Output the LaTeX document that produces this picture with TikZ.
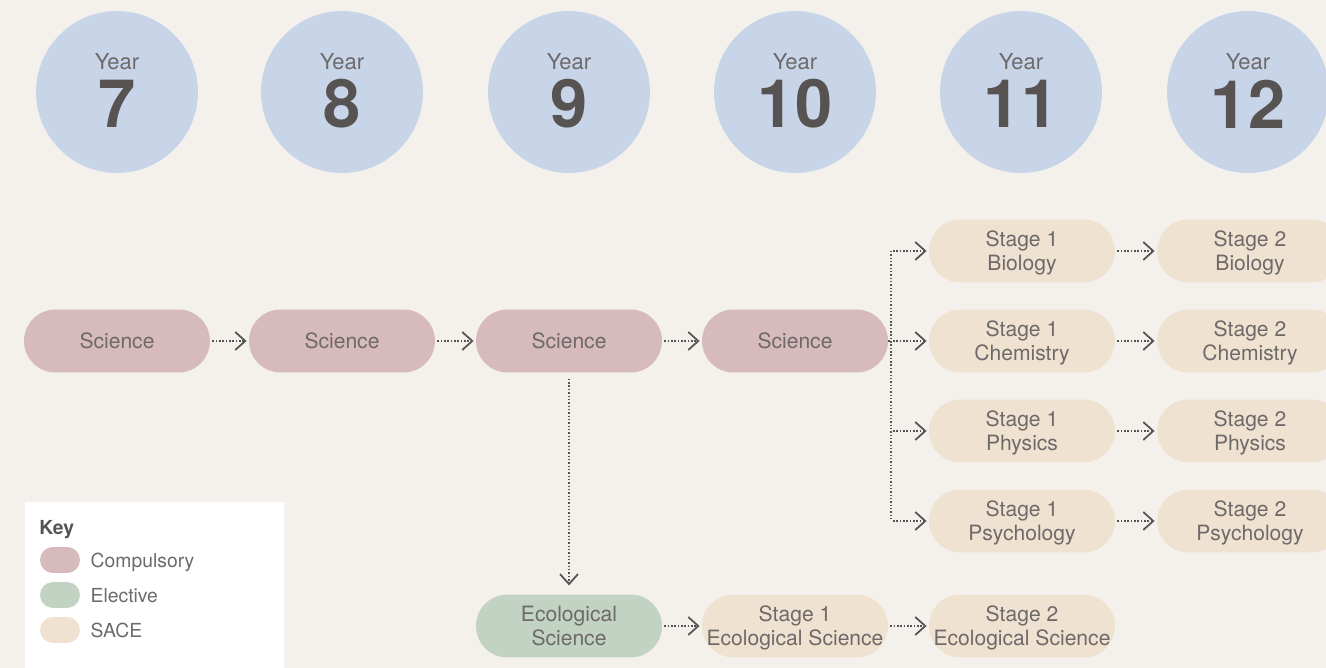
\documentclass[tikz,border=0pt]{standalone}
\usepackage{fontspec}
\setmainfont{TeX Gyre Heros}
\usepackage{tikz}
\usetikzlibrary{arrows.meta,positioning,calc}

\definecolor{bgcol}{HTML}{F4F1EC}
\definecolor{yearcol}{HTML}{C8D5E8}
\definecolor{compcol}{HTML}{D7BABB}
\definecolor{electcol}{HTML}{C2D2C3}
\definecolor{sacecol}{HTML}{F0E2D0}
\definecolor{inkcol}{HTML}{575353}
\definecolor{txtcol}{HTML}{6E6A6A}

\begin{document}
\begin{tikzpicture}[x=0.02cm,y=-0.02cm,
	year/.style={circle,fill=yearcol,minimum size=3.24cm,inner sep=0pt},
	pill/.style={rectangle,rounded corners=0.63cm,minimum width=3.72cm,minimum height=1.26cm,inner sep=0pt,align=center,text depth=0pt,text=txtcol,font=\fontsize{12}{13.6}\selectfont},
	comp/.style={pill,fill=compcol},
	elect/.style={pill,fill=electcol},
	sace/.style={pill,fill=sacecol},
	dots/.style={draw=inkcol,line width=0.8pt,dash pattern=on 0.8pt off 1.1pt},
	flow/.style={dots,shorten <=1.2pt,shorten >=1.2pt,-{Straight Barb[length=0.2cm,width=0.36cm,line width=1pt]}},
	keypill/.style={rectangle,rounded corners=0.26cm,minimum width=0.8cm,minimum height=0.52cm,inner sep=0pt},
	keytext/.style={inner sep=0pt,text depth=0pt,text=txtcol,font=\fontsize{11}{13}\selectfont}]
		\fill[bgcol] (0,0) rectangle (1326,668);
		\useasboundingbox (0,0) rectangle (1326,668);
		\foreach \n/\x in {7/117,8/342,9/569,10/795,11/1021,12/1248}{
			\node[year] (y\n) at (\x,92) {};
			\node[text=txtcol,font=\fontsize{12.5}{14}\selectfont] (yl\n) at ([yshift=0.6cm]y\n.center) {Year};
			\node[text=inkcol,font=\fontsize{38}{40}\selectfont\bfseries] (yn\n) at ([yshift=-0.24cm]y\n.center) {\n};
		}
		\node[comp] (sci7) at (117,341) {Science};
		\node[comp] (sci8) at (342,341) {Science};
		\node[comp] (sci9) at (569,341) {Science};
		\node[comp] (sci10) at (795,341) {Science};
		\node[sace] (bio1) at (1022,251) {Stage 1\\Biology};
		\node[sace] (chem1) at (1022,341) {Stage 1\\Chemistry};
		\node[sace] (phys1) at (1022,431) {Stage 1\\Physics};
		\node[sace] (psy1) at (1022,521) {Stage 1\\Psychology};
		\node[sace] (bio2) at (1250,251) {Stage 2\\Biology};
		\node[sace] (chem2) at (1250,341) {Stage 2\\Chemistry};
		\node[sace] (phys2) at (1250,431) {Stage 2\\Physics};
		\node[sace] (psy2) at (1250,521) {Stage 2\\Psychology};
		\node[elect] (eco) at (569,626) {Ecological\\Science};
		\node[sace] (eco1) at (795,626) {Stage 1\\Ecological Science};
		\node[sace] (eco2) at (1022,626) {Stage 2\\Ecological Science};
		\draw[flow] (sci7) -- (sci8);
		\draw[flow] (sci8) -- (sci9);
		\draw[flow] (sci9) -- (sci10);
		\draw[flow,shorten <=3.4pt,shorten >=5pt] (sci9) -- (eco);
		\draw[flow] (eco) -- (eco1);
		\draw[flow] (eco1) -- (eco2);
		\coordinate (fork) at (891,341);
		\draw[dots] (sci10.east) -- (fork);
		\draw[dots] (fork |- bio1) -- (fork |- psy1);
		\foreach \s in {bio1,chem1,phys1,psy1}
			\draw[flow] (fork |- \s) -- (\s.west);
		\draw[flow] (bio1) -- (bio2);
		\draw[flow] (chem1) -- (chem2);
		\draw[flow] (phys1) -- (phys2);
		\draw[flow] (psy1) -- (psy2);
		\fill[white] (25,502) rectangle (284,700);
		\node[anchor=west,inner sep=0pt,text depth=0pt,text=inkcol,font=\fontsize{11}{13}\selectfont\bfseries] (keytitle) at (39,527) {Key};
		\node[keypill,fill=compcol] (kcomp) at (60,560) {};
		\node[keypill,fill=electcol] (kelect) at (60,595) {};
		\node[keypill,fill=sacecol] (ksace) at (60,630) {};
		\node[keytext,right=0.2cm of kcomp] (lcomp) {Compulsory};
		\node[keytext,right=0.2cm of kelect] (lelect) {Elective};
		\node[keytext,right=0.2cm of ksace] (lsace) {SACE};
\end{tikzpicture}
\end{document}
